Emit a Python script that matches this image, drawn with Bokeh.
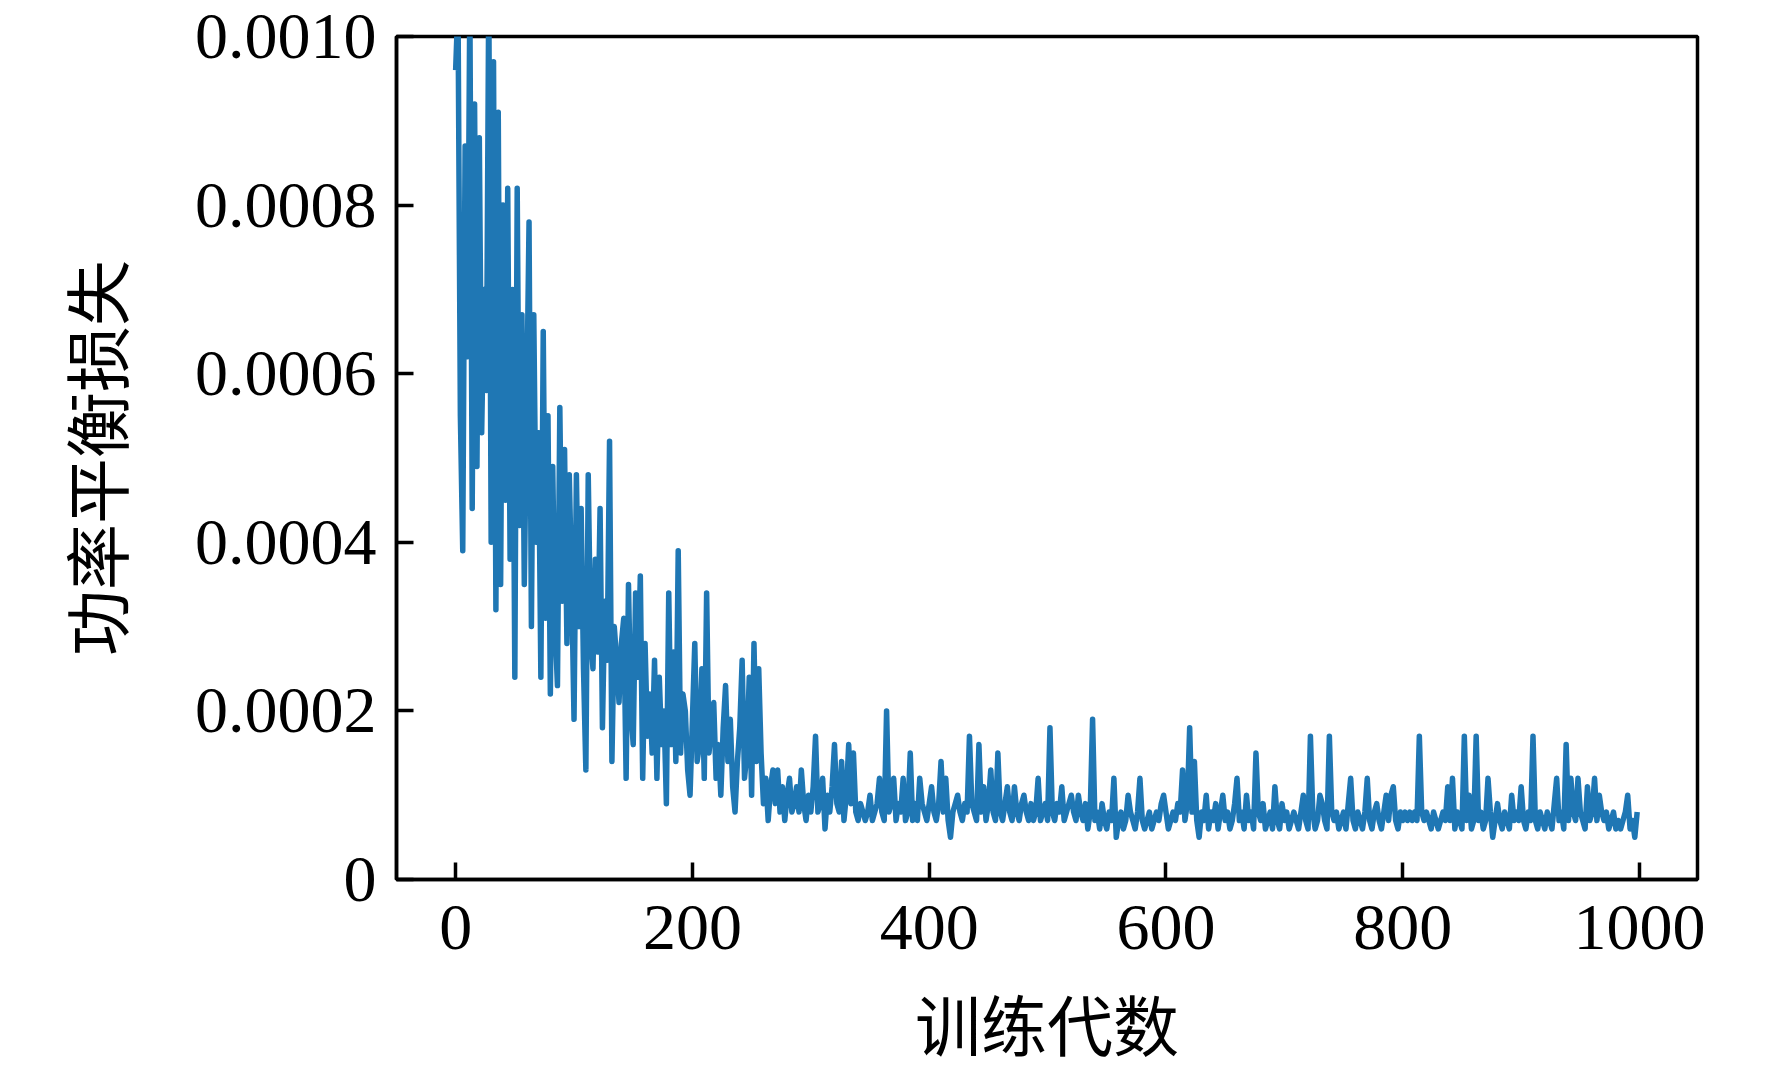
from bokeh.plotting import figure
from bokeh.models import FixedTicker, ColumnDataSource
from bokeh.embed import file_html
from bokeh.resources import INLINE

# training epochs (sampled every 2 epochs)
epochs = list(range(0, 1000, 2))

# power-balance loss, in units of 1e-5
loss_e5 = [
    96,
    104, 55, 39, 87, 62, 105, 44, 92, 49, 88,
    53, 70, 58, 106, 40, 97, 32, 91, 35, 80,
    45, 82, 38, 70, 24, 82, 42, 67, 35, 56,
    78, 30, 67, 40, 53, 24, 65, 31, 55, 22,
    49, 30, 23, 56, 33, 51, 28, 48, 35, 19,
    48, 30, 44, 25, 13, 48, 29, 25, 38, 27,
    44, 18, 33, 26, 52, 14, 30, 26, 21, 28,
    31, 12, 35, 20, 16, 34, 24, 36, 12, 28,
    17, 22, 15, 26, 12, 24, 16, 20, 9, 34,
    16, 27, 14, 39, 15, 22, 20, 13, 10, 19,
    28, 14, 16, 25, 12, 34, 15, 18, 21, 12,
    16, 10, 18, 23, 14, 19, 11, 8, 14, 18,
    26, 12, 15, 24, 10, 28, 14, 25, 15, 9,
    12, 7, 11, 13, 9, 13, 8, 11, 7, 10,
    12, 8, 9, 11, 8, 13, 9, 7, 10, 8,
    11, 17, 8, 9, 12, 6, 10, 8, 11, 16,
    9, 8, 14, 7, 10, 16, 9, 15, 8, 7,
    9, 8, 7, 8, 10, 7, 8, 9, 12, 8,
    7, 20, 8, 9, 12, 7, 9, 8, 12, 7,
    8, 15, 7, 9, 7, 12, 9, 8, 7, 9,
    11, 8, 7, 9, 14, 8, 12, 7, 5, 8,
    9, 10, 8, 7, 9, 8, 17, 9, 8, 7,
    16, 8, 11, 7, 9, 13, 8, 7, 15, 8,
    7, 9, 11, 8, 7, 11, 8, 7, 9, 10,
    8, 7, 9, 7, 8, 12, 7, 8, 9, 7,
    18, 8, 7, 9, 8, 11, 7, 8, 9, 10,
    8, 7, 10, 8, 7, 9, 6, 8, 19, 7,
    8, 6, 9, 7, 6, 8, 7, 12, 5, 7,
    8, 6, 7, 10, 8, 7, 6, 8, 12, 7,
    6, 7, 8, 6, 7, 8, 7, 9, 10, 8,
    6, 7, 8, 7, 9, 8, 13, 7, 9, 18,
    8, 14, 7, 5, 8, 7, 10, 6, 8, 7,
    9, 6, 8, 10, 7, 8, 6, 7, 9, 12,
    7, 8, 6, 10, 7, 8, 6, 15, 8, 7,
    9, 6, 7, 8, 6, 11, 7, 6, 9, 7,
    8, 6, 7, 8, 7, 6, 8, 10, 7, 6,
    17, 8, 6, 7, 10, 9, 7, 6, 17, 8,
    7, 8, 6, 7, 8, 6, 9, 12, 7, 6,
    8, 7, 6, 8, 12, 7, 6, 8, 9, 7,
    6, 8, 10, 7, 10, 11, 7, 6, 8, 7,
    8, 7, 8, 7, 8, 7, 17, 8, 7, 8,
    7, 6, 8, 7, 6, 7, 8, 7, 11, 7,
    12, 6, 8, 7, 6, 17, 7, 10, 6, 7,
    17, 7, 8, 6, 7, 12, 8, 5, 7, 9,
    7, 6, 8, 7, 6, 10, 7, 8, 7, 11,
    7, 6, 8, 7, 17, 7, 6, 8, 7, 6,
    8, 7, 6, 9, 12, 7, 8, 6, 16, 7,
    12, 8, 7, 12, 8, 7, 6, 11, 7, 8,
    12, 7, 10, 8, 7, 8, 6, 7, 8, 6,
    7, 6, 7, 8, 10, 6, 7, 5, 8,
]
loss = [v * 1e-5 for v in loss_e5]

x_ticks = [0, 200, 400, 600, 800, 1000]
y_ticks = [0, 0.0002, 0.0004, 0.0006, 0.0008, 0.0010]
y_tick_labels = ["0", "0.0002", "0.0004", "0.0006", "0.0008", "0.0010"]
x_label = "训练代数"
y_label = "功率平衡损失"

src = ColumnDataSource(dict(x=epochs, y=loss))

p = figure(width=1756, height=1067, output_backend="svg", toolbar_location=None,
           x_range=(-49.95, 1048.95), y_range=(0, 0.001),
           min_border_left=396, min_border_right=59, min_border_top=36, min_border_bottom=175)
p.background_fill_color = "white"
p.border_fill_color = "white"
p.grid.visible = False
p.outline_line_color = "black"
p.outline_line_width = 3.5

p.line("x", "y", source=src, line_color="#1f77b4", line_width=5.5, line_join="round")

serif = "Liberation Serif"
cjk = "Liberation Serif, Noto Sans CJK SC"

for ax in (p.xaxis[0], p.yaxis[0]):
    ax.axis_line_width = 3.5
    ax.axis_line_color = "black"
    ax.major_tick_line_width = 3.5
    ax.major_tick_line_color = "black"
    ax.major_tick_in = 17
    ax.major_tick_out = 0
    ax.minor_tick_line_color = None
    ax.major_label_text_font = serif
    ax.major_label_text_font_size = "66px"
    ax.major_label_text_color = "black"
    ax.axis_label_text_font = cjk
    ax.axis_label_text_font_size = "66px"
    ax.axis_label_text_font_style = "normal"
    ax.axis_label_text_color = "black"

p.xaxis[0].ticker = FixedTicker(ticks=x_ticks)
p.yaxis[0].ticker = FixedTicker(ticks=y_ticks)
p.yaxis[0].major_label_overrides = {t: l for t, l in zip(y_ticks, y_tick_labels)}
p.xaxis[0].axis_label = x_label
p.yaxis[0].axis_label = y_label
p.xaxis[0].major_label_standoff = 26
p.yaxis[0].major_label_standoff = 20
p.xaxis[0].axis_label_standoff = 40
p.yaxis[0].axis_label_standoff = 55

open("out.html", "w").write(file_html(p, INLINE))
